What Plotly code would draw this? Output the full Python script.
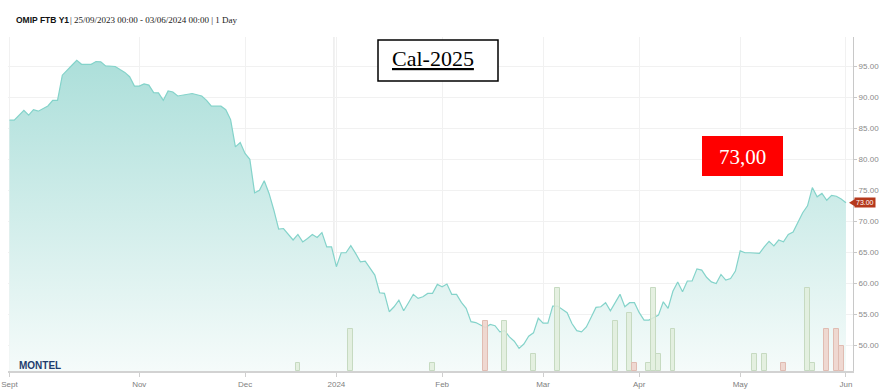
import pandas as pd
import plotly.graph_objects as go

# ---------------- data ----------------
holidays = ["2023-12-25", "2023-12-26", "2024-01-01", "2024-03-29", "2024-04-01", "2024-05-01"]
trading_days = [d.strftime("%Y-%m-%d") for d in pd.bdate_range("2023-09-25", "2024-06-03")
                if d.strftime("%Y-%m-%d") not in holidays]

price_dates = [
    "2023-09-25", "2023-09-26", "2023-09-28", "2023-09-29", "2023-10-02", "2023-10-03",
    "2023-10-05", "2023-10-06", "2023-10-09", "2023-10-10", "2023-10-12", "2023-10-13",
    "2023-10-16", "2023-10-18", "2023-10-19", "2023-10-20", "2023-10-23", "2023-10-25",
    "2023-10-26", "2023-10-27", "2023-10-30", "2023-10-31", "2023-11-01", "2023-11-02",
    "2023-11-03", "2023-11-06", "2023-11-07", "2023-11-08", "2023-11-09", "2023-11-10",
    "2023-11-13", "2023-11-14", "2023-11-16", "2023-11-20", "2023-11-21", "2023-11-22",
    "2023-11-24", "2023-11-27", "2023-11-28", "2023-11-29", "2023-11-30", "2023-12-01",
    "2023-12-04", "2023-12-05", "2023-12-06", "2023-12-07", "2023-12-08", "2023-12-11",
    "2023-12-12", "2023-12-13", "2023-12-14", "2023-12-15", "2023-12-18", "2023-12-19",
    "2023-12-20", "2023-12-21", "2023-12-22", "2023-12-27", "2023-12-28", "2023-12-29",
    "2024-01-02", "2024-01-03", "2024-01-04", "2024-01-05", "2024-01-08", "2024-01-09",
    "2024-01-10", "2024-01-11", "2024-01-12", "2024-01-15", "2024-01-16", "2024-01-17",
    "2024-01-18", "2024-01-19", "2024-01-22", "2024-01-23", "2024-01-24", "2024-01-25",
    "2024-01-26", "2024-01-29", "2024-01-30", "2024-01-31", "2024-02-01", "2024-02-02",
    "2024-02-05", "2024-02-06", "2024-02-07", "2024-02-08", "2024-02-09", "2024-02-12",
    "2024-02-13", "2024-02-14", "2024-02-15", "2024-02-16", "2024-02-19", "2024-02-20",
    "2024-02-21", "2024-02-22", "2024-02-23", "2024-02-26", "2024-02-27", "2024-02-28",
    "2024-02-29", "2024-03-01", "2024-03-04", "2024-03-05", "2024-03-06", "2024-03-07",
    "2024-03-08", "2024-03-11", "2024-03-12", "2024-03-13", "2024-03-14", "2024-03-15",
    "2024-03-18", "2024-03-19", "2024-03-20", "2024-03-21", "2024-03-22", "2024-03-25",
    "2024-03-26", "2024-03-27", "2024-03-28", "2024-04-02", "2024-04-03", "2024-04-04",
    "2024-04-05", "2024-04-08", "2024-04-09", "2024-04-10", "2024-04-11", "2024-04-12",
    "2024-04-15", "2024-04-16", "2024-04-17", "2024-04-18", "2024-04-19", "2024-04-22",
    "2024-04-23", "2024-04-24", "2024-04-25", "2024-04-26", "2024-04-29", "2024-04-30",
    "2024-05-02", "2024-05-03", "2024-05-06", "2024-05-07", "2024-05-08", "2024-05-09",
    "2024-05-10", "2024-05-13", "2024-05-14", "2024-05-15", "2024-05-16", "2024-05-17",
    "2024-05-20", "2024-05-21", "2024-05-22", "2024-05-23", "2024-05-24", "2024-05-27",
    "2024-05-28", "2024-05-29", "2024-05-30", "2024-05-31", "2024-06-03",
]
price_values = [
    86.3, 86.3, 87.9, 87.1, 88.0, 87.75,
    88.6, 89.5, 89.5, 93.55, 95.15, 95.95,
    95.3, 95.3, 95.75, 95.7, 95.05, 94.95,
    94.45, 94.0, 93.3, 91.8, 91.8, 92.15,
    91.95, 90.75, 90.7, 89.5, 91.0, 90.85,
    90.2, 90.3, 90.6, 90.2, 89.5, 88.55,
    88.55, 88.0, 86.4, 82.0, 82.7, 80.95,
    80.0, 74.6, 75.0, 76.55, 74.5, 71.8,
    68.75, 68.85, 67.9, 67.0, 67.9, 66.7,
    67.25, 67.9, 67.4, 68.2, 65.9, 65.9,
    62.7, 64.95, 64.95, 66.1, 64.85, 63.5,
    63.6, 62.55, 61.35, 58.5, 58.4, 55.45,
    56.25, 57.3, 55.6, 56.9, 58.25, 57.6,
    57.85, 58.4, 58.4, 59.85, 59.45, 59.9,
    58.25, 58.25, 56.95, 56.0, 53.85, 53.7,
    53.3, 52.9, 53.4, 53.2, 52.2, 52.4,
    51.4, 50.7, 49.55, 50.25, 51.5, 52.05,
    54.4, 53.6, 53.6, 56.35, 56.35, 55.8,
    55.3, 53.55, 52.4, 52.2, 53.0, 54.55,
    56.15, 56.25, 56.9, 55.6, 57.05, 58.25,
    56.25, 56.9, 56.9, 55.3, 54.1, 54.1,
    54.5, 54.9, 57.05, 56.0, 58.75, 60.25,
    58.65, 60.4, 60.4, 62.35, 62.15, 61.0,
    60.25, 60.0, 61.45, 60.55, 60.8, 62.0,
    65.25, 64.95, 64.95, 64.95, 64.85, 65.9,
    66.8, 66.05, 67.0, 66.7, 67.9, 68.3,
    69.95, 71.4, 72.5, 75.45, 73.95, 74.5,
    73.4, 74.2, 74.05, 73.6, 73.0,
]

vol_up_dates = ["2023-12-18", "2024-01-05", "2024-01-30", "2024-02-20", "2024-02-28", "2024-03-06",
                "2024-03-22", "2024-03-27", "2024-04-04", "2024-04-05", "2024-04-08", "2024-04-11",
                "2024-05-07", "2024-05-09", "2024-05-22", "2024-05-23"]
vol_up = [1, 5, 1, 6, 2, 10, 6, 7, 1, 10, 2, 5, 2, 2, 10, 1]
vol_down_dates = ["2024-02-14", "2024-03-28", "2024-05-15", "2024-05-28", "2024-05-30", "2024-05-31"]
vol_down = [6, 1, 1, 5, 5, 3]

tick_dates = ["2023-09-25", "2023-11-01", "2023-12-01", "2024-01-02", "2024-02-01",
              "2024-03-01", "2024-04-02", "2024-05-02", "2024-06-03"]
tick_labels = ["Sept", "Nov", "Dec", "2024", "Feb", "Mar", "Apr", "May", "Jun"]
y_ticks = [50, 55, 60, 65, 70, 75, 80, 85, 90, 95]

# ---------------- layout helpers ----------------
L, T, R, B = 8, 37, 853, 371
W, H = R - L, B - T


def fx(px):
    return (px - L) / W


def fy(py):
    return (B - py) / H


last_val = price_values[-1]

fig = go.Figure()

fig.add_trace(go.Scatter(
    x=price_dates, y=price_values, mode="lines",
    line=dict(color="#84d3ca", width=1.2),
    fill="tozeroy",
    fillgradient=dict(type="vertical",
                      colorscale=[[0, "rgb(245,251,250)"], [1, "rgb(172,223,218)"]],
                      start=46, stop=96),
    hoverinfo="skip", showlegend=False,
))

fig.add_trace(go.Bar(
    x=vol_up_dates, y=vol_up, yaxis="y2",
    marker=dict(color="rgba(224,237,220,0.85)", line=dict(color="#c6dac1", width=1)),
    showlegend=False, hoverinfo="skip",
))
fig.add_trace(go.Bar(
    x=vol_down_dates, y=vol_down, yaxis="y2",
    marker=dict(color="rgba(238,212,204,0.9)", line=dict(color="#e0bcb2", width=1)),
    showlegend=False, hoverinfo="skip",
))

i2024 = trading_days.index("2024-01-02")

fig.update_layout(
    width=880, height=391,
    margin=dict(l=L, r=880 - R, t=T, b=391 - B, autoexpand=False),
    paper_bgcolor="white", plot_bgcolor="white",
    bargap=0, barmode="overlay",
    xaxis=dict(
        type="category", categoryorder="array", categoryarray=trading_days,
        range=[-0.3, len(trading_days) - 1 + 1.46],
        tickmode="array", tickvals=tick_dates, ticktext=tick_labels,
        showgrid=True, gridcolor="#f1f1f1", gridwidth=1,
        showline=True, linecolor="#d2d2d2", linewidth=2,
        ticks="outside", ticklen=4, tickcolor="#cfcfcf",
        tickfont=dict(family="Liberation Sans, Arial", size=8, color="#808080"),
        zeroline=False, fixedrange=True, automargin=False,
    ),
    yaxis=dict(
        range=[45.9, 99.7], side="right",
        tickmode="array", tickvals=y_ticks, tickformat=".2f",
        showgrid=True, gridcolor="#f1f1f1", gridwidth=1,
        showline=True, linecolor="#c8c8c8", linewidth=1,
        ticks="outside", ticklen=3, tickcolor="#c8c8c8",
        tickfont=dict(family="Liberation Sans, Arial", size=8, color="#8a8a8a"),
        zeroline=False, automargin=False,
    ),
    yaxis2=dict(overlaying="y", range=[0, 40.2], visible=False, fixedrange=True),
    shapes=[
        dict(type="line", xref="x", yref="paper", x0=i2024 - 0.5, x1=i2024 - 0.5, y0=0, y1=1,
             line=dict(color="#e2e2e2", width=1), layer="below"),
        dict(type="rect", xref="paper", yref="paper", x0=fx(378), x1=fx(498), y0=fy(81), y1=fy(40),
             line=dict(color="black", width=1.5), fillcolor="white"),
        dict(type="rect", xref="paper", yref="paper", x0=fx(702), x1=fx(783), y0=fy(176), y1=fy(136),
             line=dict(width=0), fillcolor="#ff0000"),
        dict(type="path", xref="paper", yref="y",
             path=f"M {fx(849)},{last_val} L {fx(856)},{last_val + 0.68} L {fx(856)},{last_val - 0.68} Z",
             fillcolor="#b5391c", line=dict(width=0)),
    ],
    annotations=[
        dict(text="<b>OMIP FTB Y1</b>", xref="paper", yref="paper", x=fx(14), y=fy(20),
             xanchor="left", yanchor="middle", showarrow=False,
             font=dict(family="Liberation Sans, Arial", size=8.5, color="#111111")),
        dict(text="| 25/09/2023 00:00 - 03/06/2024 00:00 | 1 Day", xref="paper", yref="paper",
             x=fx(67.5), y=fy(20), xanchor="left", yanchor="middle", showarrow=False,
             font=dict(family="Liberation Serif, DejaVu Serif", size=9, color="#222222")),
        dict(text="<u>Cal-2025</u>", xref="paper", yref="paper", x=fx(433), y=fy(59),
             xanchor="center", yanchor="middle", showarrow=False,
             font=dict(family="Liberation Serif, DejaVu Serif", size=22, color="black")),
        dict(text=f"{last_val:.2f}".replace(".", ","), xref="paper", yref="paper",
             x=fx(742.5), y=fy(157), xanchor="center", yanchor="middle", showarrow=False,
             font=dict(family="Liberation Serif, DejaVu Serif", size=21, color="white")),
        dict(text=f"{last_val:.2f}", xref="paper", yref="y", x=fx(865), y=last_val,
             xanchor="center", yanchor="middle", showarrow=False, bgcolor="#b5391c", borderpad=1,
             font=dict(family="Liberation Sans, Arial", size=7, color="white")),
        dict(text="<b>MONTEL</b>", xref="paper", yref="paper", x=fx(16.5), y=fy(365.5),
             xanchor="left", yanchor="middle", showarrow=False,
             font=dict(family="Liberation Sans, Arial", size=10, color="#1f3d6e")),
    ],
)

fig.write_html("out.html", config={"displayModeBar": False},
               post_script="document.body.style.margin='0';document.body.style.padding='0';")
